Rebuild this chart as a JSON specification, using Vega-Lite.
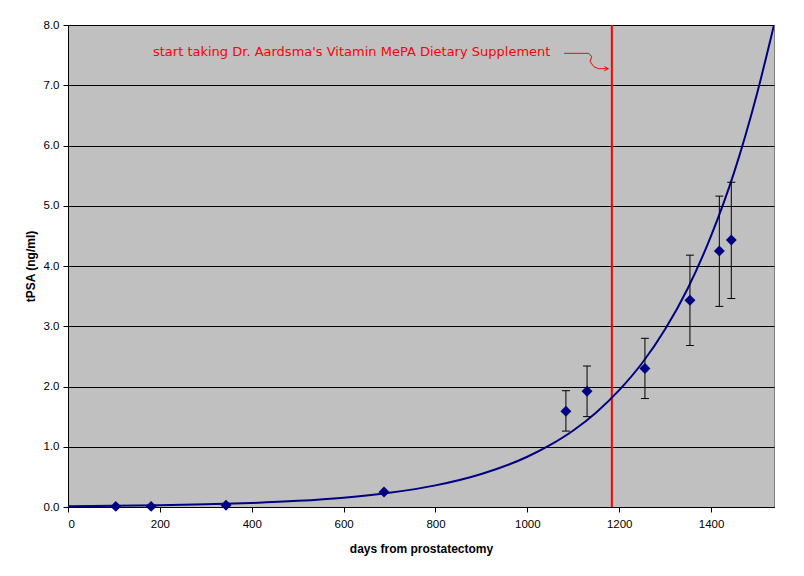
{
  "$schema": "https://vega.github.io/schema/vega-lite/v6.json",
  "autosize": "none",
  "width": 706,
  "height": 482,
  "padding": {"left": 68, "top": 25, "right": 30, "bottom": 69},
  "background": "white",
  "config": {
    "view": {"fill": "#C0C0C0", "stroke": "#808080", "strokeWidth": 1},
    "axis": {"labelFont": "Liberation Sans", "labelFontSize": 11.5, "labelColor": "black", "titleFont": "Liberation Sans", "titleFontSize": 12, "titleFontWeight": "bold", "titleColor": "black", "domainColor": "black", "tickColor": "black", "gridColor": "black", "gridOpacity": 1}
  },
  "datasets": {
    "points": [
      {"day": 104, "psa": 0.01, "lo": null, "hi": null},
      {"day": 181, "psa": 0.01, "lo": null, "hi": null},
      {"day": 344, "psa": 0.03, "lo": null, "hi": null},
      {"day": 688, "psa": 0.25, "lo": null, "hi": null},
      {"day": 1084, "psa": 1.59, "lo": 1.26, "hi": 1.93},
      {"day": 1130, "psa": 1.92, "lo": 1.5, "hi": 2.34},
      {"day": 1256, "psa": 2.3, "lo": 1.8, "hi": 2.8},
      {"day": 1354, "psa": 3.43, "lo": 2.68, "hi": 4.18},
      {"day": 1418, "psa": 4.25, "lo": 3.33, "hi": 5.16},
      {"day": 1444, "psa": 4.43, "lo": 3.46, "hi": 5.39}
    ],
    "trend": [
      {"day": 0, "psa": 0.012}, {"day": 100, "psa": 0.019}, {"day": 200, "psa": 0.029},
      {"day": 300, "psa": 0.044}, {"day": 400, "psa": 0.067}, {"day": 500, "psa": 0.102},
      {"day": 600, "psa": 0.155}, {"day": 700, "psa": 0.236}, {"day": 800, "psa": 0.359},
      {"day": 900, "psa": 0.548}, {"day": 1000, "psa": 0.834}, {"day": 1050, "psa": 1.03},
      {"day": 1100, "psa": 1.27}, {"day": 1150, "psa": 1.57}, {"day": 1200, "psa": 1.94},
      {"day": 1250, "psa": 2.39}, {"day": 1300, "psa": 2.95}, {"day": 1350, "psa": 3.64},
      {"day": 1400, "psa": 4.5}, {"day": 1450, "psa": 5.55}, {"day": 1500, "psa": 6.86},
      {"day": 1537, "psa": 8.0}
    ],
    "arrow": [
      {"seg": "a", "i": 1, "day": 1080, "psa": 7.53},
      {"seg": "a", "i": 2, "day": 1134, "psa": 7.53},
      {"seg": "a", "i": 3, "day": 1140, "psa": 7.474},
      {"seg": "a", "i": 4, "day": 1136.5, "psa": 7.391},
      {"seg": "a", "i": 5, "day": 1145, "psa": 7.308},
      {"seg": "a", "i": 6, "day": 1154.6, "psa": 7.275},
      {"seg": "a", "i": 7, "day": 1176.4, "psa": 7.275},
      {"seg": "b", "i": 1, "day": 1167.6, "psa": 7.31},
      {"seg": "b", "i": 2, "day": 1176.4, "psa": 7.275},
      {"seg": "b", "i": 3, "day": 1167.6, "psa": 7.24}
    ]
  },
  "encoding": {
    "x": {"field": "day", "type": "quantitative", "scale": {"domain": [0, 1537], "nice": false, "zero": false},
      "axis": {"title": "days from prostatectomy", "values": [0, 200, 400, 600, 800, 1000, 1200, 1400], "format": "d", "grid": false, "tickSize": 5, "labelPadding": 6, "titlePadding": 14}},
    "y": {"field": "psa", "type": "quantitative", "scale": {"domain": [0, 8], "nice": false},
      "axis": {"title": "tPSA (ng/ml)", "values": [0, 1, 2, 3, 4, 5, 6, 7, 8], "format": ".1f", "grid": true, "tickSize": 5, "labelPadding": 4, "titlePadding": 6}}
  },
  "layer": [
    {
      "data": {"values": [{"day": 1184}]},
      "mark": {"type": "rule", "color": "#FF0000", "strokeWidth": 2},
      "encoding": {"x": {"field": "day", "type": "quantitative"}, "y": null}
    },
    {
      "data": {"name": "trend"},
      "mark": {"type": "line", "color": "#000080", "strokeWidth": 2, "interpolate": "monotone", "clip": true}
    },
    {
      "data": {"name": "points"},
      "transform": [{"filter": "datum.lo != null"}],
      "mark": {"type": "errorbar", "color": "black", "opacity": 1, "thickness": 1, "rule": {"color": "black", "opacity": 1}, "ticks": {"size": 8, "color": "black", "thickness": 1, "opacity": 1}},
      "encoding": {"y": {"field": "lo", "type": "quantitative"}, "y2": {"field": "hi"}}
    },
    {
      "data": {"name": "points"},
      "mark": {"type": "point", "shape": "diamond", "filled": true, "color": "#000080", "opacity": 1, "size": 120}
    },
    {
      "data": {"name": "arrow"},
      "mark": {"type": "line", "color": "#FF0000", "strokeWidth": 1},
      "encoding": {"detail": {"field": "seg"}, "order": {"field": "i", "type": "quantitative"}}
    },
    {
      "data": {"values": [{"day": 185, "psa": 7.55, "label": "start taking Dr. Aardsma's Vitamin MePA Dietary Supplement"}]},
      "mark": {"type": "text", "align": "left", "baseline": "middle", "color": "#FF0000", "font": "DejaVu Sans", "fontSize": 13},
      "encoding": {"text": {"field": "label"}}
    }
  ]
}
